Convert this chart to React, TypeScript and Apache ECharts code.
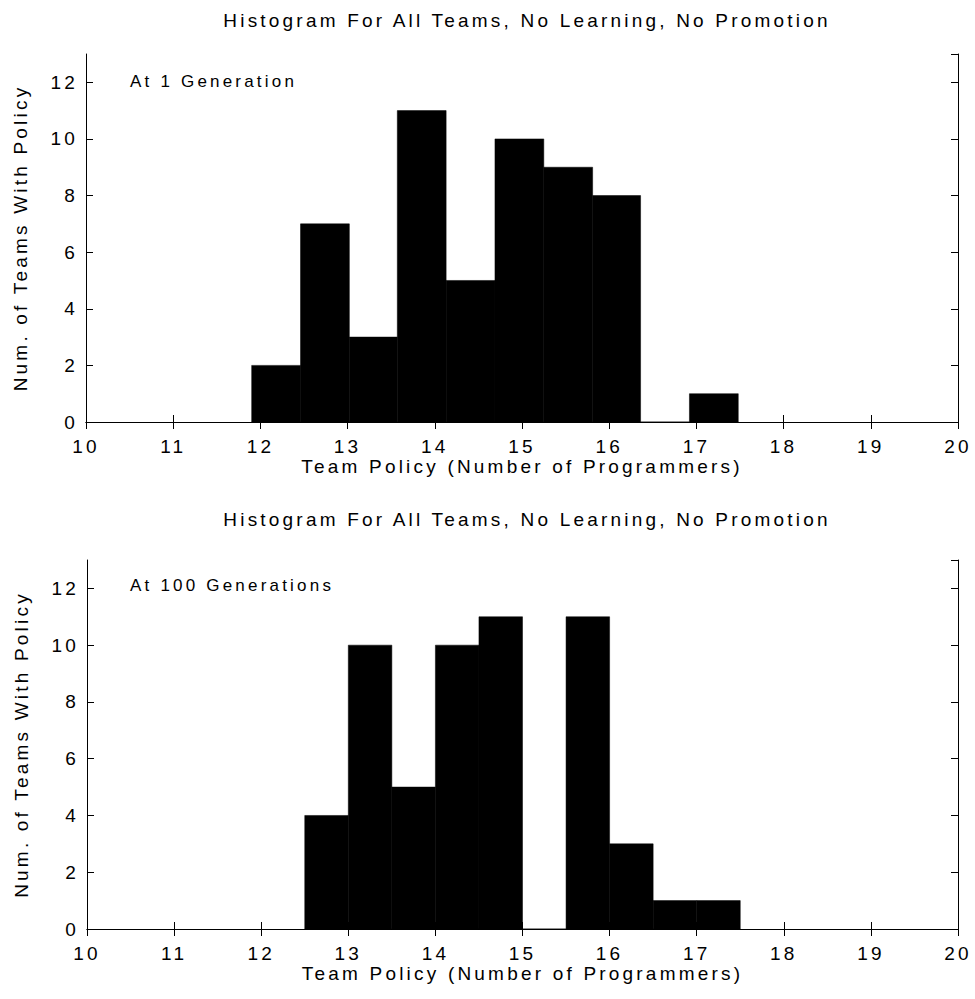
import React, { useEffect, useRef } from "react";
import * as echarts from "echarts";

// Histogram 1 (At 1 Generation): bin edges and counts
const edges1 = [11.9, 12.46, 13.02, 13.57, 14.13, 14.69, 15.25, 15.81, 16.36, 16.92, 17.48];
const counts1 = [2, 7, 3, 11, 5, 10, 9, 8, 0, 1];

// Histogram 2 (At 100 Generations)
const edges2 = [12.5, 13, 13.5, 14, 14.5, 15, 15.5, 16, 16.5, 17, 17.5];
const counts2 = [4, 10, 5, 10, 11, 0, 11, 3, 1, 1];

const titleText = "Histogram For All Teams, No Learning, No Promotion";
const xName = "Team Policy (Number of Programmers)";
const yName = "Num. of Teams With Policy";
const labels = ["At 1 Generation", "At 100 Generations"];

const FONT = "Liberation Sans";

function toBins(edges: number[], counts: number[]) {
  return counts.map((c, i) => [edges[i], edges[i + 1], c]);
}

export default function App() {
  const ref = useRef<HTMLDivElement>(null);
  useEffect(() => {
    document.body.style.margin = "0";
    const chart = echarts.init(ref.current!, null, { renderer: "svg" });
    const grids = [
      { left: 86, top: 54, width: 872, height: 368 },
      { left: 87, top: 560, width: 871, height: 369 },
    ];
    const axisLine = { show: true, lineStyle: { color: "#000", width: 1 } };
    const xAxes: any[] = [];
    const yAxes: any[] = [];
    grids.forEach((_, gi) => {
      xAxes.push({
        type: "value", gridIndex: gi, min: 10, max: 20, interval: 1,
        position: "bottom",
        axisLine, axisTick: { inside: true, length: 7, lineStyle: { color: "#000" } },
        axisLabel: { color: "#000", fontSize: 19, fontFamily: FONT, margin: 15 },
        splitLine: { show: false },
        name: xName, nameLocation: "middle", nameGap: 31,
        nameTextStyle: { color: "#000", fontSize: 19, fontFamily: FONT },
      });
      xAxes.push({
        type: "value", gridIndex: gi, min: 10, max: 20, interval: 1,
        position: "top",
        axisLine, axisTick: { inside: true, length: 7, lineStyle: { color: "#000" } },
        axisLabel: { show: false }, splitLine: { show: false },
      });
      yAxes.push({
        type: "value", gridIndex: gi, min: 0, max: 13, interval: 2,
        position: "left",
        axisLine, axisTick: { inside: true, length: 7, lineStyle: { color: "#000" } },
        axisLabel: { color: "#000", fontSize: 19, fontFamily: FONT, margin: 8, showMaxLabel: false },
        splitLine: { show: false },
        name: yName, nameLocation: "middle", nameGap: 56,
        nameTextStyle: { color: "#000", fontSize: 19, fontFamily: FONT },
      });
      yAxes.push({
        type: "value", gridIndex: gi, min: 0, max: 13, interval: 2,
        position: "right",
        axisLine, axisTick: { inside: true, length: 7, lineStyle: { color: "#000" } },
        axisLabel: { show: false }, splitLine: { show: false },
      });
    });
    const renderItem = (params: any, api: any) => {
      const p0 = api.coord([api.value(0), api.value(2)]);
      const p1 = api.coord([api.value(1), 0]);
      return {
        type: "rect",
        shape: { x: p0[0], y: p0[1], width: p1[0] - p0[0], height: p1[1] - p0[1] },
        style: { fill: "#000", stroke: "#000", lineWidth: 0.5 },
      };
    };
    const datasets = [toBins(edges1, counts1), toBins(edges2, counts2)];
    chart.setOption({
      animation: false,
      backgroundColor: "#fff",
      title: [
        { text: titleText, left: 522, top: 6, textAlign: "center",
          textStyle: { color: "#000", fontSize: 19, fontWeight: "normal", fontFamily: FONT } },
        { text: titleText, left: 522, top: 505, textAlign: "center",
          textStyle: { color: "#000", fontSize: 19, fontWeight: "normal", fontFamily: FONT } },
      ],
      grid: grids,
      xAxis: xAxes,
      yAxis: yAxes,
      graphic: [
        { type: "text", left: 130, top: 73, style: { text: labels[0], fill: "#000", fontSize: 17, fontFamily: FONT } },
        { type: "text", left: 130, top: 577, style: { text: labels[1], fill: "#000", fontSize: 17, fontFamily: FONT } },
      ],
      series: datasets.map((d, gi) => ({
        type: "custom",
        xAxisIndex: gi * 2,
        yAxisIndex: gi * 2,
        renderItem,
        encode: { x: [0, 1], y: 2 },
        data: d,
      })),
    });
    return () => chart.dispose();
  }, []);
  return <div ref={ref} style={{ width: 975, height: 999, letterSpacing: "3.2px" }} />;
}
